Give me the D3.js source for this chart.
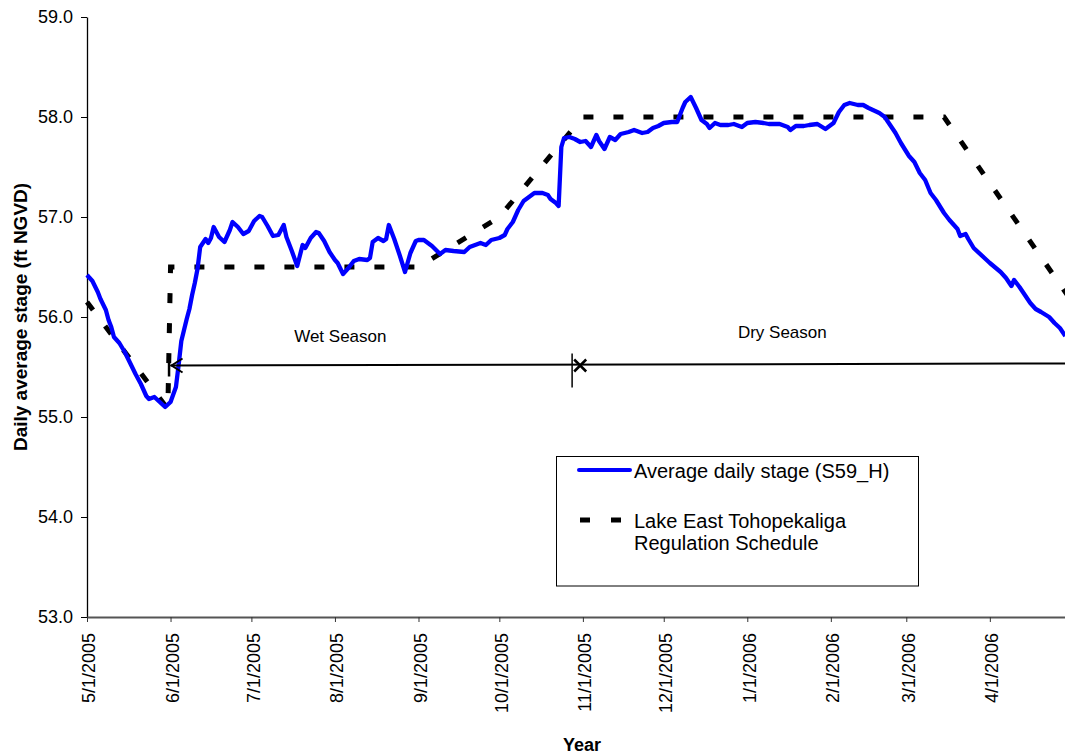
<!DOCTYPE html>
<html>
<head>
<meta charset="utf-8">
<script src="https://cdn.jsdelivr.net/npm/d3@7"></script>
<style>
  html, body { margin: 0; padding: 0; background: #fff; }
  svg { display: block; font-family: "Liberation Sans", Arial, sans-serif; }
</style>
</head>
<body>
<svg id="chart" width="1065" height="754"></svg>
<script>
// Average daily stage at S59 (headwater), ft NGVD
const stageDates = [
  "2005-05-01","2005-05-03","2005-05-05","2005-05-06","2005-05-08","2005-05-09","2005-05-10","2005-05-11",
  "2005-05-13","2005-05-15","2005-05-17","2005-05-19","2005-05-21","2005-05-23","2005-05-24","2005-05-26",
  "2005-05-28","2005-05-30","2005-06-01","2005-06-03","2005-06-04","2005-06-05","2005-06-06","2005-06-07",
  "2005-06-08","2005-06-09","2005-06-10","2005-06-11","2005-06-12","2005-06-14","2005-06-15","2005-06-16",
  "2005-06-17","2005-06-19","2005-06-21","2005-06-23","2005-06-24","2005-06-26","2005-06-28","2005-06-30",
  "2005-07-02","2005-07-04","2005-07-05","2005-07-07","2005-07-09","2005-07-11","2005-07-13","2005-07-14",
  "2005-07-16","2005-07-18","2005-07-20","2005-07-21","2005-07-23","2005-07-25","2005-07-26","2005-07-28",
  "2005-07-30","2005-08-01","2005-08-02","2005-08-04","2005-08-06","2005-08-08","2005-08-10","2005-08-13",
  "2005-08-14","2005-08-15","2005-08-17","2005-08-19","2005-08-20","2005-08-21","2005-08-23","2005-08-25",
  "2005-08-27","2005-08-29","2005-08-31","2005-09-01","2005-09-03","2005-09-06","2005-09-09","2005-09-11",
  "2005-09-14","2005-09-18","2005-09-20","2005-09-24","2005-09-26","2005-09-28","2005-10-01","2005-10-03",
  "2005-10-04","2005-10-06","2005-10-08","2005-10-10","2005-10-12","2005-10-14","2005-10-17","2005-10-19",
  "2005-10-20","2005-10-22","2005-10-23","2005-10-24","2005-10-25","2005-10-27","2005-10-29","2005-10-31",
  "2005-11-02","2005-11-04","2005-11-06","2005-11-07","2005-11-09","2005-11-11","2005-11-13","2005-11-15",
  "2005-11-18","2005-11-20","2005-11-23","2005-11-25","2005-11-27","2005-11-29","2005-12-01","2005-12-04",
  "2005-12-06","2005-12-08","2005-12-09","2005-12-11","2005-12-13","2005-12-15","2005-12-17","2005-12-18",
  "2005-12-20","2005-12-22","2005-12-25","2005-12-27","2005-12-30","2006-01-01","2006-01-04","2006-01-07",
  "2006-01-09","2006-01-13","2006-01-16","2006-01-17","2006-01-19","2006-01-22","2006-01-24","2006-01-27",
  "2006-01-30","2006-02-01","2006-02-02","2006-02-04","2006-02-06","2006-02-08","2006-02-11","2006-02-13",
  "2006-02-15","2006-02-19","2006-02-21","2006-02-23","2006-02-25","2006-02-27","2006-03-02","2006-03-04",
  "2006-03-06","2006-03-08","2006-03-10","2006-03-12","2006-03-15","2006-03-17","2006-03-20","2006-03-21",
  "2006-03-23","2006-03-24","2006-03-26","2006-03-30","2006-04-01","2006-04-05","2006-04-07","2006-04-09",
  "2006-04-10","2006-04-12","2006-04-14","2006-04-16","2006-04-18","2006-04-20","2006-04-23","2006-04-25",
  "2006-04-27","2006-04-29"
];
const stageValues = [
  56.42,56.36,56.25,56.18,56.07,55.97,55.90,55.80,
  55.74,55.65,55.54,55.43,55.33,55.21,55.18,55.20,
  55.15,55.10,55.15,55.30,55.52,55.76,55.87,55.98,
  56.08,56.22,56.34,56.48,56.70,56.78,56.74,56.79,
  56.90,56.80,56.75,56.87,56.95,56.90,56.83,56.86,
  56.96,57.01,57.00,56.91,56.81,56.82,56.92,56.80,
  56.66,56.51,56.72,56.69,56.79,56.85,56.84,56.76,
  56.65,56.57,56.54,56.43,56.49,56.56,56.58,56.57,
  56.59,56.75,56.79,56.76,56.78,56.92,56.78,56.62,
  56.45,56.64,56.76,56.77,56.77,56.71,56.63,56.67,
  56.66,56.65,56.70,56.74,56.72,56.77,56.79,56.82,
  56.88,56.95,57.07,57.16,57.20,57.24,57.24,57.22,
  57.18,57.14,57.11,57.70,57.79,57.80,57.78,57.75,
  57.76,57.70,57.82,57.76,57.68,57.80,57.77,57.83,
  57.85,57.87,57.84,57.85,57.89,57.91,57.94,57.95,
  57.95,58.09,58.15,58.20,58.09,57.97,57.93,57.89,
  57.94,57.92,57.92,57.93,57.90,57.94,57.95,57.94,
  57.93,57.93,57.90,57.87,57.91,57.91,57.92,57.93,
  57.88,57.92,57.94,58.05,58.12,58.14,58.12,58.12,
  58.09,58.04,58.00,57.92,57.84,57.74,57.61,57.55,
  57.44,57.37,57.24,57.17,57.04,56.97,56.88,56.81,
  56.83,56.78,56.69,56.59,56.54,56.45,56.39,56.31,
  56.37,56.30,56.22,56.14,56.08,56.05,56.00,55.94,
  55.89,55.81
];

// Lake East Tohopekaliga regulation schedule, ft NGVD
const scheduleDates  = ["2005-05-01","2005-05-31","2005-06-01","2005-09-01","2005-10-01","2005-11-01","2006-03-15","2006-04-30"];
const scheduleValues = [56.15, 55.08, 56.50, 56.50, 57.00, 58.00, 58.00, 56.21];

// Axis ticks
const yTicks = [53, 54, 55, 56, 57, 58, 59];
const xTickDates = ["2005-05-01","2005-06-01","2005-07-01","2005-08-01","2005-09-01","2005-10-01",
                    "2005-11-01","2005-12-01","2006-01-01","2006-02-01","2006-03-01","2006-04-01"];

// Season timeline
const seasonLevel = 55.515;
const seasonStart = "2005-06-01";
const seasonSplit = "2005-10-28";
const seasonMarker = "2005-10-31";
const seasonEnd = "2006-04-30";
const seasonLabels = [
  { text: "Wet Season", date: "2005-08-03", value: 55.75 },
  { text: "Dry Season", date: "2006-01-14", value: 55.79 }
];

const legendItems = [
  { kind: "stage", lines: ["Average daily stage (S59_H)"] },
  { kind: "schedule", lines: ["Lake East Tohopekaliga", "Regulation Schedule"] }
];

const parse = d3.timeParse("%Y-%m-%d");
const fmtTick = d => `${d.getMonth() + 1}/${d.getDate()}/${d.getFullYear()}`;

const svg = d3.select("#chart");
const plot = { left: 87, top: 17, bottom: 617, right: 1068 };

const x = d3.scaleTime()
  .domain([parse("2005-05-01"), parse("2006-04-30")])
  .range([plot.left, plot.right]);
const y = d3.scaleLinear().domain([53, 59]).range([plot.bottom, plot.top]);

const stage = stageDates.map((d, i) => ({ date: parse(d), value: stageValues[i] }));
const schedule = scheduleDates.map((d, i) => ({ date: parse(d), value: scheduleValues[i] }));

const line = d3.line().x(d => x(d.date)).y(d => y(d.value));

// Y axis
const yAxis = svg.append("g")
  .attr("transform", `translate(${plot.left},0)`)
  .call(d3.axisLeft(y).tickValues(yTicks).tickFormat(d3.format(".1f")).tickSize(6).tickSizeOuter(0).tickPadding(8));
yAxis.select(".domain").attr("stroke", "#000").attr("stroke-width", 1.3);
yAxis.selectAll(".tick line").attr("stroke", "#000");
yAxis.selectAll(".tick text").attr("font-size", 18).attr("fill", "#000")
  .attr("font-family", "'Liberation Sans', Arial, sans-serif");

// X axis
const xAxis = svg.append("g")
  .attr("transform", `translate(0,${plot.bottom})`)
  .call(d3.axisBottom(x).tickValues(xTickDates.map(parse)).tickFormat(fmtTick).tickSize(5).tickSizeOuter(0));
xAxis.select(".domain").attr("stroke", "#555").attr("stroke-width", 2);
xAxis.selectAll(".tick line").attr("stroke", "#333");
xAxis.selectAll(".tick text")
  .attr("font-size", 18).attr("fill", "#000")
  .attr("font-family", "'Liberation Sans', Arial, sans-serif")
  .attr("text-anchor", "end")
  .attr("transform", "translate(1.5,16) rotate(-90)")
  .attr("x", 0).attr("y", 0).attr("dy", "0.36em");

// Axis titles
svg.append("text")
  .attr("transform", `translate(27,${(plot.top + plot.bottom) / 2}) rotate(-90)`)
  .attr("text-anchor", "middle")
  .attr("font-size", 19).attr("font-weight", "bold")
  .text("Daily average stage (ft NGVD)");
svg.append("text")
  .attr("x", 582).attr("y", 751)
  .attr("text-anchor", "middle")
  .attr("font-size", 18).attr("font-weight", "bold")
  .text("Year");

// Regulation schedule (dashed)
svg.append("path")
  .datum(schedule)
  .attr("d", line)
  .attr("fill", "none")
  .attr("stroke", "#000")
  .attr("stroke-width", 5)
  .attr("stroke-dasharray", "10,20");

// Stage line
svg.append("path")
  .datum(stage)
  .attr("d", line)
  .attr("fill", "none")
  .attr("stroke", "#0000ff")
  .attr("stroke-width", 4.3)
  .attr("stroke-linejoin", "round");

// Season timeline
const tl = svg.append("g").attr("stroke", "#000").attr("fill", "none");
const ys = y(seasonLevel);
const xs = x(parse(seasonStart));
tl.append("line")
  .attr("x1", xs).attr("y1", ys)
  .attr("x2", x(parse(seasonEnd))).attr("y2", y(seasonLevel + 0.02))
  .attr("stroke-width", 2);
tl.append("line").attr("x1", xs - 1.5).attr("x2", xs - 1.5).attr("y1", ys - 9).attr("y2", ys + 11).attr("stroke-width", 2.5);
tl.append("path").attr("d", `M${xs + 12},${ys - 7} L${xs + 1},${ys} L${xs + 12},${ys + 7}`).attr("stroke-width", 2);
const xm = x(parse(seasonSplit));
tl.append("line").attr("x1", xm).attr("x2", xm).attr("y1", ys - 12).attr("y2", ys + 22).attr("stroke-width", 1.5);
const xx = x(parse(seasonMarker));
tl.append("path")
  .attr("d", `M${xx - 6},${ys - 6} L${xx + 6},${ys + 6} M${xx - 6},${ys + 6} L${xx + 6},${ys - 6}`)
  .attr("stroke-width", 2.5);

svg.selectAll(".season-label")
  .data(seasonLabels)
  .join("text")
  .attr("class", "season-label")
  .attr("x", d => x(parse(d.date)))
  .attr("y", d => y(d.value))
  .attr("text-anchor", "middle")
  .attr("font-size", 17)
  .attr("fill", "#000")
  .text(d => d.text);

// Legend
const lg = svg.append("g");
lg.append("rect")
  .attr("x", 556.5).attr("y", 456.5).attr("width", 362).attr("height", 129.5)
  .attr("fill", "#fff").attr("stroke", "#000").attr("stroke-width", 1);
const rows = [470, 520];
legendItems.forEach((item, i) => {
  const cy = rows[i];
  if (item.kind === "stage") {
    lg.append("line").attr("x1", 579).attr("x2", 630).attr("y1", cy).attr("y2", cy)
      .attr("stroke", "#0000ff").attr("stroke-width", 4).attr("stroke-linecap", "round");
  } else {
    lg.append("line").attr("x1", 580).attr("x2", 622).attr("y1", cy).attr("y2", cy)
      .attr("stroke", "#000").attr("stroke-width", 5).attr("stroke-dasharray", "10,21");
  }
  item.lines.forEach((t, j) => {
    lg.append("text")
      .attr("x", 634).attr("y", cy + 8 + j * 22)
      .attr("font-size", 20).attr("fill", "#000")
      .text(t);
  });
});
</script>
</body>
</html>
